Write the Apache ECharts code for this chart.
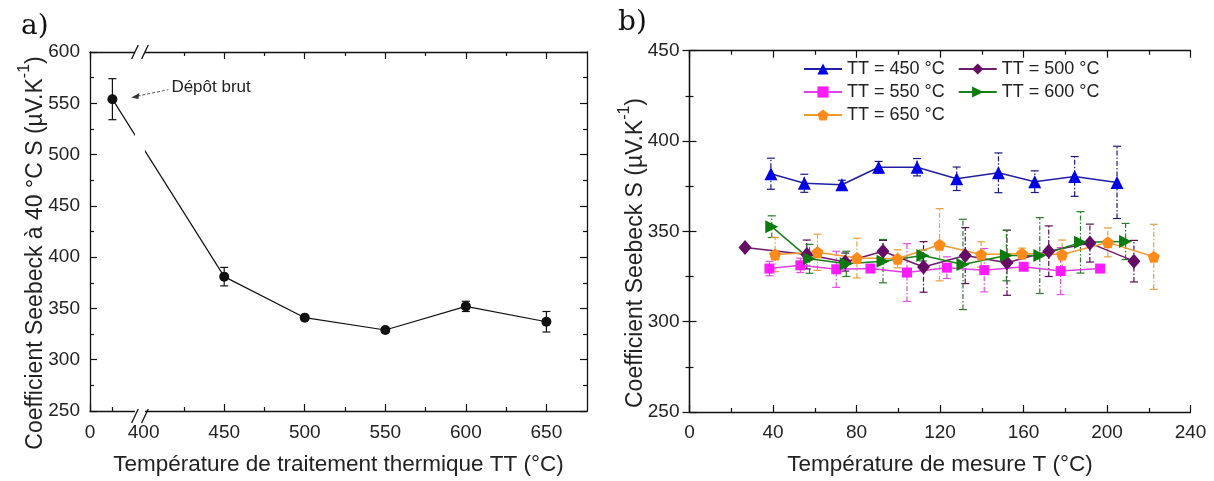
<!DOCTYPE html>
<html>
<head>
<meta charset="utf-8">
<script src="https://cdn.jsdelivr.net/npm/echarts@6/dist/echarts.min.js"></script>
<style>
    html, body { margin: 0; padding: 0; background: #fff; }
    #main { width: 1214px; height: 481px; }
</style>
</head>
<body>
<div id="main"></div>
<script>
// ---- panel a : Seebeck at 40 °C vs annealing temperature ----
var ttValues   = [450, 500, 550, 600, 650];
var ttSeebeck  = [381, 341, 329, 352, 337];
var ttErr      = [9, 2, 2, 5, 10];
var brutPos    = 20;      // as-deposited sample, on the broken first segment (0..40)
var brutS      = 554;
var brutErr    = 20;
var majorTicksA = [400, 450, 500, 550, 600, 650];
var minorTicksA = [425, 475, 525, 575, 625];

// ---- panel b : Seebeck vs measurement temperature ----
var t450 = [39, 55, 73, 90.6, 109, 128, 148, 165.4, 184.5, 204.8];
var s450 = [381.9, 376.6, 375.8, 385.5, 385.5, 379.1, 382.4, 377.5, 380.4, 377.1];
var e450 = [8.6, 5, 2.5, 3.2, 4.8, 6.5, 11, 6, 11, 20];

var t500 = [26.6, 56.2, 74.6, 92.7, 112.1, 132.1, 152.1, 172.1, 191.8, 212.9];
var s500 = [341, 337.2, 333, 339, 330.3, 336.6, 332.6, 339, 343.5, 333.5];
var e500 = [1, 8, 5, 6, 14, 15.5, 18, 14, 10.5, 11.5];

var t550 = [38.3, 53.1, 70.3, 86.7, 104.2, 123.3, 141.2, 160.1, 177.8, 196.7];
var s550 = [329.4, 331.2, 329, 329.4, 327.2, 329.9, 328.5, 330.4, 328, 329.4];
var e550 = [4, 4, 10, 2, 16, 6, 12, 2, 13, 2];

var t600 = [39.4, 57.5, 75.1, 92.7, 111.8, 131, 151.8, 167.8, 187.3, 208.9];
var s600 = [352.6, 334.8, 332, 333.5, 336.6, 331.7, 336.6, 336.6, 343.9, 344.4];
var e600 = [6, 8, 7, 12, 3, 25, 14, 21, 17, 10];

var t650 = [41, 61.3, 80.2, 99.7, 119.8, 139.7, 159.3, 178.5, 200.4, 222.4];
var s650 = [337.2, 338.4, 335.2, 334.8, 342.6, 337.2, 337.7, 337.2, 343.9, 335.9];
var e650 = [9.5, 10, 11, 5, 20, 7, 3, 8, 8, 18];

var FONT = 'Liberation Sans, Arial, sans-serif';
var TXT = '#222';

// broken x axis of panel a: segment 0..40 squeezed before 400
var SEG1_START = 366.7, SEG1_SCALE = 0.695, BREAK_POS = 397.7;
function axisPos(x) {
    return x >= 400 ? x : SEG1_START + x * SEG1_SCALE;
}

function zip(xs, ys) {
    return xs.map(function (x, i) { return [x, ys[i]]; });
}
function errData(xs, ys, es) {
    return xs.map(function (x, i) { return [x, ys[i] - es[i], ys[i] + es[i]]; });
}
function errRender(color, dashed) {
    return function (params, api) {
        var x = api.value(0);
        var lo = api.coord([x, api.value(1)]);
        var hi = api.coord([x, api.value(2)]);
        var w = 4;
        function st(d) {
            return { stroke: color, lineWidth: 1.2, lineDash: d ? [5, 2, 1.5, 2] : null, fill: null };
        }
        return {
            type: 'group',
            children: [
                { type: 'line', shape: { x1: lo[0], y1: lo[1], x2: hi[0], y2: hi[1] }, style: st(dashed) },
                { type: 'line', shape: { x1: hi[0] - w, y1: hi[1], x2: hi[0] + w, y2: hi[1] }, style: st(false) },
                { type: 'line', shape: { x1: lo[0] - w, y1: lo[1], x2: lo[0] + w, y2: lo[1] }, style: st(false) }
            ]
        };
    };
}

var axisLine = { show: true, lineStyle: { color: '#111', width: 1.3 } };
var tickMajor = { show: true, inside: true, length: 7, lineStyle: { color: '#111', width: 1.2 } };
var labelStyle = { color: TXT, fontSize: 19, fontFamily: FONT };

var gridA = { left: 90, top: 52, width: 497, height: 364 };
var gridB = { left: 689.5, top: 50.7, width: 501, height: 368 };

var myChart = echarts.init(document.getElementById('main'));

function xA(position, major, showLabel, withLine) {
    var ticks = major ? [SEG1_START].concat(majorTicksA) : (position === 'bottom' ? [axisPos(brutPos)] : []).concat(minorTicksA);
    return {
        type: 'value', gridIndex: 0, position: position, min: SEG1_START, max: 675.2,
        axisLine: withLine ? axisLine : { show: false },
        axisTick: { show: true, inside: true, length: major ? 7 : 4, customValues: ticks, lineStyle: { color: '#111', width: 1.2 } },
        axisLabel: showLabel ? Object.assign({
            margin: 12, customValues: [SEG1_START].concat(majorTicksA),
            formatter: function (v) { return v < 390 ? '0' : String(Math.round(v)); }
        }, labelStyle) : { show: false },
        splitLine: { show: false },
        name: showLabel ? 'Température de traitement thermique TT (°C)' : '',
        nameLocation: 'middle', nameGap: 42,
        nameTextStyle: { color: TXT, fontSize: 22.5, fontFamily: FONT }
    };
}

function yAx(grid, position, min, max, showLabel) {
    return {
        type: 'value', gridIndex: grid, position: position, min: min, max: max, interval: 50,
        axisLine: axisLine, axisTick: tickMajor,
        minorTick: { show: true, splitNumber: 2, length: 4, lineStyle: { color: '#111', width: 1.2 } },
        axisLabel: showLabel ? Object.assign({ margin: 10 }, labelStyle) : { show: false },
        splitLine: { show: false }, minorSplitLine: { show: false }
    };
}

function xB(position, showLabel) {
    return {
        type: 'value', gridIndex: 1, position: position, min: 0, max: 240, interval: 40,
        axisLine: axisLine, axisTick: tickMajor,
        minorTick: { show: true, splitNumber: 2, length: 4, lineStyle: { color: '#111', width: 1.2 } },
        axisLabel: showLabel ? Object.assign({ margin: 11 }, labelStyle) : { show: false },
        splitLine: { show: false },
        name: showLabel ? 'Température de mesure T (°C)' : '',
        nameLocation: 'middle', nameGap: 41,
        nameTextStyle: { color: TXT, fontSize: 22.5, fontFamily: FONT }
    };
}

var seriesDefs = [
    { name: 'TT = 450 °C', t: t450, s: s450, e: e450, symbol: 'triangle', size: 13, sym: '#0000e6', line: '#2020a0', err: '#1a1a80' },
    { name: 'TT = 500 °C', t: t500, s: s500, e: e500, symbol: 'diamond', size: [13, 15], sym: '#650d65', line: '#6e1a6e', err: '#5a0a5a' },
    { name: 'TT = 550 °C', t: t550, s: s550, e: e550, symbol: 'rect', size: 10, sym: '#ff1aff', line: '#e040e0', err: '#e050e0' },
    { name: 'TT = 600 °C', t: t600, s: s600, e: e600, symbol: 'path://M0,0 L10,5 L0,10 Z', size: 13, sym: '#0a7a0a', line: '#1a801a', err: '#2a7a2a' },
    { name: 'TT = 650 °C', t: t650, s: s650, e: e650, symbol: 'path://M5,0 L10,3.8 L8.1,10 L1.9,10 L0,3.8 Z', size: 12, sym: '#ff8c1a', line: '#ef9a30', err: '#e8a040' }
];

var series = [];
// panel a
var aX = [axisPos(brutPos)].concat(ttValues);
var aS = [brutS].concat(ttSeebeck);
var aE = [brutErr].concat(ttErr);
series.push({
    type: 'custom', xAxisIndex: 0, yAxisIndex: 0, z: 1,
    renderItem: errRender('#111', false), data: errData(aX, aS, aE),
    encode: { x: 0, y: [1, 2] }, silent: true
});
series.push({
    name: 'a', type: 'line', xAxisIndex: 0, yAxisIndex: 0, z: 2,
    data: zip(aX, aS), symbol: 'circle', symbolSize: 10,
    lineStyle: { color: '#111', width: 1.2 }, itemStyle: { color: '#111' }
});
// panel b
seriesDefs.forEach(function (d) {
    series.push({
        type: 'custom', xAxisIndex: 4, yAxisIndex: 2, z: 1,
        renderItem: errRender(d.err, true), data: errData(d.t, d.s, d.e),
        encode: { x: 0, y: [1, 2] }, silent: true
    });
});
seriesDefs.forEach(function (d) {
    series.push({
        name: d.name, type: 'line', xAxisIndex: 4, yAxisIndex: 2, z: 3,
        data: zip(d.t, d.s), symbol: d.symbol, symbolSize: d.size, showAllSymbol: true,
        lineStyle: { color: d.line, width: 1.5 }, itemStyle: { color: d.sym }
    });
});

function legendRow(names, top) {
    return {
        data: names, left: 803, top: top, orient: 'horizontal', padding: 0,
        itemWidth: 38, itemHeight: 14, itemGap: 13, selectedMode: false,
        textStyle: { color: TXT, fontSize: 18, fontFamily: FONT }
    };
}

var yTitleRich = {
    n: { fontSize: 23, fontFamily: FONT, lineHeight: 30, verticalAlign: 'bottom', fill: TXT, color: TXT },
    s: { fontSize: 16, fontFamily: FONT, lineHeight: 30, verticalAlign: 'top', fill: TXT, color: TXT }
};

var option = {
    animation: false,
    backgroundColor: '#fff',
    grid: [gridA, gridB],
    legend: [
        legendRow(['TT = 450 °C', 'TT = 500 °C'], 60),
        legendRow(['TT = 550 °C', 'TT = 600 °C'], 83),
        legendRow(['TT = 650 °C'], 106)
    ],
    xAxis: [
        xA('bottom', true, true, true),
        xA('bottom', false, false, false),
        xA('top', true, false, true),
        xA('top', false, false, false),
        xB('bottom', true),
        xB('top', false)
    ],
    yAxis: [
        yAx(0, 'left', 250, 600, true),
        yAx(0, 'right', 250, 600, false),
        yAx(1, 'left', 250, 450, true),
        yAx(1, 'right', 250, 450, false)
    ],
    series: series
};
myChart.setOption(option);

// decorations: axis break, annotation, panel letters, y titles
var bx = myChart.convertToPixel({ xAxisIndex: 0 }, BREAK_POS);
var topA = gridA.top, botA = gridA.top + gridA.height;
var p0 = myChart.convertToPixel({ xAxisIndex: 0, yAxisIndex: 0 }, [axisPos(brutPos), brutS]);
var tip = [p0[0] + 19, p0[1] - 1.7];
var tail = [p0[0] + 56, p0[1] - 9.5];

function slash(x, y) {
    return { type: 'line', z: 101, shape: { x1: x - 3.3, y1: y + 7, x2: x + 3.3, y2: y - 7 }, style: { stroke: '#111', lineWidth: 1.3 } };
}

myChart.setOption({
    graphic: [
        { type: 'rect', z: 100, shape: { x: bx - 5, y: topA - 3, width: 10, height: botA - topA + 6 }, style: { fill: '#fff' } },
        slash(bx - 5, topA), slash(bx + 5, topA), slash(bx - 5, botA), slash(bx + 5, botA),
        { type: 'line', z: 100, shape: { x1: tip[0] + 6, y1: tip[1] - 1.4, x2: tail[0], y2: tail[1] }, style: { stroke: '#555', lineWidth: 1, lineDash: [3, 2] } },
        { type: 'polygon', z: 100, shape: { points: [tip, [tip[0] + 8, tip[1] - 4.5], [tip[0] + 7, tip[1] + 1.5]] }, style: { fill: '#333' } },
        { type: 'text', z: 100, x: p0[0] + 59, y: p0[1] - 12, style: { text: 'Dépôt brut', font: '17px ' + FONT, fill: TXT, textVerticalAlign: 'middle', verticalAlign: 'middle' } },
        { type: 'text', z: 100, x: 21, y: 27, style: { text: 'a)', font: '28px DejaVu Serif, serif', fill: '#111', textVerticalAlign: 'middle', verticalAlign: 'middle' } },
        { type: 'text', z: 100, x: 618, y: 23, style: { text: 'b)', font: '28px DejaVu Serif, serif', fill: '#111', textVerticalAlign: 'middle', verticalAlign: 'middle' } },
        { type: 'text', z: 100, x: 32, y: 253, rotation: Math.PI / 2,
          style: { text: '{n|Coefficient Seebeck à 40 °C S (µV.K}{s|-1}{n|)}', rich: yTitleRich,
                   textAlign: 'center', align: 'center', textVerticalAlign: 'middle', verticalAlign: 'middle' } },
        { type: 'text', z: 100, x: 632, y: 253, rotation: Math.PI / 2,
          style: { text: '{n|Coefficient Seebeck S (µV.K}{s|-1}{n|)}', rich: yTitleRich,
                   textAlign: 'center', align: 'center', textVerticalAlign: 'middle', verticalAlign: 'middle' } }
    ]
});
</script>
</body>
</html>
